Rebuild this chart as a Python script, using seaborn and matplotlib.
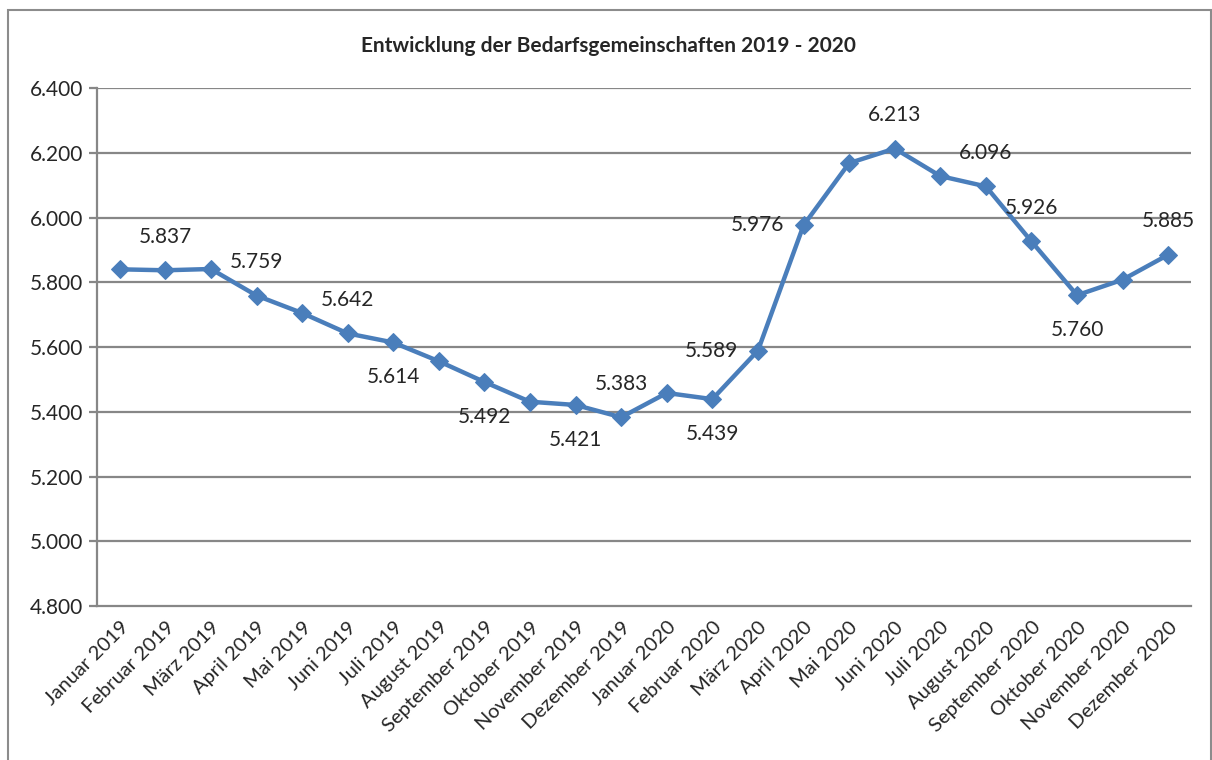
import matplotlib
matplotlib.use("Agg")
from matplotlib import pyplot as plt
from matplotlib.patches import Rectangle
import numpy as np
import pandas as pd
import seaborn as sns

months = ["Januar 2019", "Februar 2019", "März 2019", "April 2019", "Mai 2019", "Juni 2019",
          "Juli 2019", "August 2019", "September 2019", "Oktober 2019", "November 2019",
          "Dezember 2019", "Januar 2020", "Februar 2020", "März 2020", "April 2020", "Mai 2020",
          "Juni 2020", "Juli 2020", "August 2020", "September 2020", "Oktober 2020",
          "November 2020", "Dezember 2020"]
bg_values = [5.840, 5.837, 5.841, 5.759, 5.705, 5.642, 5.614, 5.556, 5.492, 5.431, 5.421, 5.383,
             5.458, 5.439, 5.589, 5.976, 6.168, 6.213, 6.128, 6.096, 5.926, 5.760, 5.808, 5.885]
# which points carry a data label and where it sits
label_above = ["Februar 2019", "April 2019", "Juni 2019", "Dezember 2019", "Juni 2020",
               "August 2020", "September 2020", "Dezember 2020"]
label_below = ["Juli 2019", "September 2019", "November 2019", "Februar 2020", "Oktober 2020"]
label_left = ["März 2020", "April 2020"]
y_ticks = [4.8, 5.0, 5.2, 5.4, 5.6, 5.8, 6.0, 6.2, 6.4]

df = pd.DataFrame({"monat": months, "wert": bg_values, "pos": np.arange(len(months))})

sns.set_style("white")
plt.rcParams['font.family'] = ['Lato', 'DejaVu Sans']

fig = plt.figure(figsize=(12.12, 7.6), dpi=100)
ax = fig.add_axes([0.080, 0.2026, 0.9027, 0.6816])

grid_col = "#878787"
line_col = "#4A7EBB"

for y in y_ticks[1:]:
    ax.axhline(y, color=grid_col, lw=1.6, zorder=1)

sns.lineplot(data=df, x="pos", y="wert", ax=ax, color=line_col, lw=3.2, marker="D",
             markersize=9, markeredgecolor=line_col, zorder=3)

for m, v, p in zip(months, bg_values, df["pos"]):
    txt = f"{v:.3f}"
    if m in label_above:
        ax.annotate(txt, (p, v), xytext=(0, 24), textcoords="offset points",
                    ha="center", va="center", fontsize=15)
    elif m in label_below:
        ax.annotate(txt, (p, v), xytext=(0, -25), textcoords="offset points",
                    ha="center", va="center", fontsize=15)
    elif m in label_left:
        ax.annotate(txt, (p, v), xytext=(-14, 0), textcoords="offset points",
                    ha="right", va="center", fontsize=15)

ax.set_xlim(-0.5, len(months) - 0.5)
ax.set_ylim(4.8, 6.4)
ax.set_yticks(y_ticks)
ax.set_yticklabels([f"{v:.3f}" for v in y_ticks], fontsize=15)
ax.set_xticks(df["pos"])
ax.set_xticklabels(months, rotation=45, ha="right", rotation_mode="anchor", fontsize=14.5)
ax.set_xticks(np.arange(-0.5, len(months)), minor=True)
ax.tick_params(axis="x", which="major", length=0, pad=9)
ax.tick_params(axis="x", which="minor", length=7, width=1.6, color=grid_col, direction="out")
ax.tick_params(axis="y", length=6, width=1.6, color=grid_col, direction="out", pad=4, left=True)
ax.set_xlabel("")
ax.set_ylabel("")

for s in ["top", "right"]:
    ax.spines[s].set_visible(False)
for s in ["left", "bottom"]:
    ax.spines[s].set_color(grid_col)
    ax.spines[s].set_linewidth(1.6)

fig.text(0.502, 0.94, "Entwicklung der Bedarfsgemeinschaften 2019 - 2020",
         ha="center", va="center", fontsize=15, fontweight="bold")

fig.patches.append(Rectangle((0.007, -0.01), 0.992, 0.997, transform=fig.transFigure,
                             fill=False, edgecolor="#8c8c8c", lw=1.5))

plt.savefig("out.png", dpi=100)
